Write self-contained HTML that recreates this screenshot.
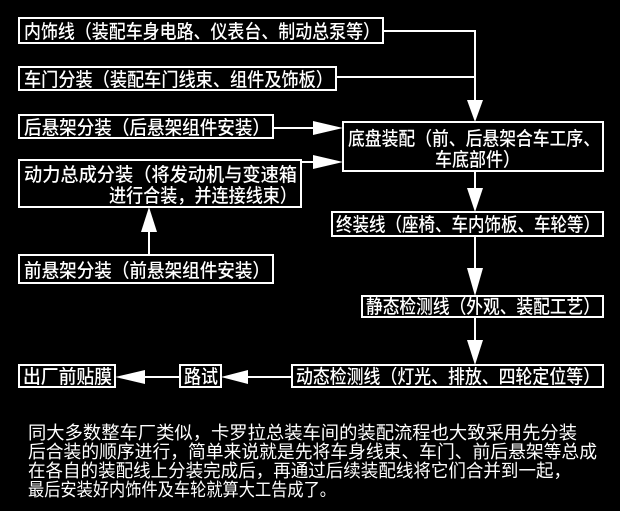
<!DOCTYPE html>
<html><head><meta charset="utf-8"><style>
html,body{margin:0;padding:0;background:#000;}
svg{display:block;}
text{font-family:"Liberation Sans","Noto Sans CJK SC",sans-serif;fill:#fff;}
</style></head><body>
<svg width="620" height="511" viewBox="0 0 620 511" xmlns="http://www.w3.org/2000/svg">
<rect width="620" height="511" fill="#000"/>
<g fill="none" stroke="#fff" stroke-width="2">
<rect x="19" y="18" width="364" height="25"/>
<rect x="19" y="67" width="317" height="23"/>
<rect x="19" y="115" width="254" height="23"/>
<rect x="19" y="160" width="282" height="47"/>
<rect x="19" y="255" width="254" height="28"/>
<rect x="343" y="122" width="260" height="49"/>
<rect x="332" y="212" width="271" height="24"/>
<rect x="362" y="296" width="241" height="21"/>
<rect x="292" y="365" width="311" height="22"/>
<rect x="180" y="365" width="41" height="22"/>
<rect x="19" y="365" width="96" height="22"/>
<polyline points="383,31 475,31 475,100"/>
<line x1="336" y1="77" x2="475" y2="77"/>
<line x1="273" y1="128" x2="315" y2="128"/>
<line x1="301" y1="162" x2="315" y2="162"/>
<line x1="149" y1="255" x2="149" y2="232"/>
<line x1="475" y1="171" x2="475" y2="190"/>
<line x1="475" y1="236" x2="475" y2="270"/>
<line x1="475" y1="317" x2="475" y2="340"/>
<line x1="292" y1="377" x2="245" y2="377"/>
<line x1="180" y1="377" x2="145" y2="377"/>
</g>
<g fill="#fff">
<polygon points="467,100 483,100 475,122"/>
<polygon points="313,121 343,128 313,135"/>
<polygon points="313,155 343,162 313,169"/>
<polygon points="141,232 157,232 149,207"/>
<polygon points="467,188 483,188 475,212"/>
<polygon points="467,268 483,268 475,296"/>
<polygon points="467,340 483,340 475,365"/>
<polygon points="248,370 248,384 221,377"/>
<polygon points="145,370 145,384 115,377"/>
</g>
<g font-size="19" font-weight="500">
<text x="24" y="38" textLength="356" lengthAdjust="spacingAndGlyphs">内饰线（装配车身电路、仪表台、制动总泵等）</text>
<text x="24" y="86" textLength="309" lengthAdjust="spacingAndGlyphs">车门分装（装配车门线束、组件及饰板）</text>
<text x="24" y="134" textLength="246" lengthAdjust="spacingAndGlyphs">后悬架分装（后悬架组件安装）</text>
<text x="24" y="181" textLength="273" lengthAdjust="spacingAndGlyphs">动力总成分装（将发动机与变速箱</text>
<text x="109" y="202" textLength="188" lengthAdjust="spacingAndGlyphs">进行合装，并连接线束）</text>
<text x="24" y="277" textLength="246" lengthAdjust="spacingAndGlyphs">前悬架分装（前悬架组件安装）</text>
<text x="348" y="145" textLength="252" lengthAdjust="spacingAndGlyphs">底盘装配（前、后悬架合车工序、</text>
<text x="435" y="166" textLength="85" lengthAdjust="spacingAndGlyphs">车底部件）</text>
<text x="336" y="231" textLength="264" lengthAdjust="spacingAndGlyphs">终装线（座椅、车内饰板、车轮等）</text>
<text x="366" y="313" textLength="234" lengthAdjust="spacingAndGlyphs">静态检测线（外观、装配工艺）</text>
<text x="296" y="383" textLength="304" lengthAdjust="spacingAndGlyphs">动态检测线（灯光、排放、四轮定位等）</text>
<text x="184" y="383" textLength="34" lengthAdjust="spacingAndGlyphs">路试</text>
<text x="23" y="383" textLength="89" lengthAdjust="spacingAndGlyphs">出厂前贴膜</text>
</g>
<g font-size="18">
<text x="28" y="439" textLength="549" lengthAdjust="spacingAndGlyphs">同大多数整车厂类似，卡罗拉总装车间的装配流程也大致采用先分装</text>
<text x="28" y="458" textLength="569" lengthAdjust="spacingAndGlyphs">后合装的顺序进行，简单来说就是先将车身线束、车门、前后悬架等总成</text>
<text x="28" y="477" textLength="543" lengthAdjust="spacingAndGlyphs">在各自的装配线上分装完成后，再通过后续装配线将它们合并到一起，</text>
<text x="28" y="496" textLength="308" lengthAdjust="spacingAndGlyphs">最后安装好内饰件及车轮就算大工告成了。</text>
</g>
</svg>
</body></html>
